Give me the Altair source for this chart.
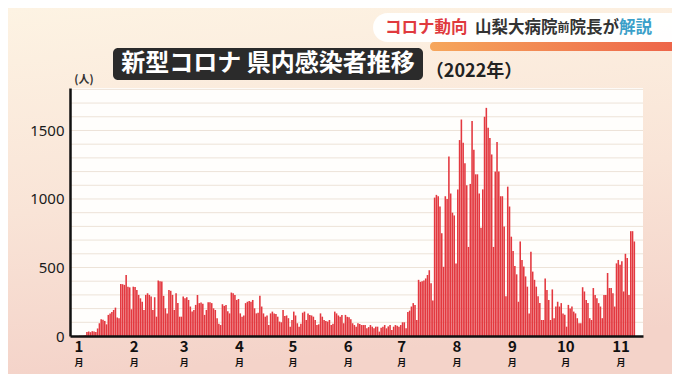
import altair as alt
import pandas as pd

# ---- daily new cases, 2022 ----
jan = [1, 2, 3, 5, 30, 33, 28, 35, 33, 30, 55, 93, 122, 118, 110, 85, 154, 165, 175, 190,
       207, 135, 130, 380, 378, 373, 446, 360, 355, 195, 360]
feb = [358, 336, 300, 275, 250, 190, 300, 312, 300, 288, 190, 283, 141, 405, 400, 397, 293,
       202, 165, 336, 330, 300, 190, 312, 240, 141, 141, 288]
mar = [275, 283, 263, 215, 178, 190, 227, 300, 240, 245, 235, 154, 190, 246, 246, 240, 202,
       190, 130, 90, 80, 232, 220, 227, 180, 165, 317, 312, 300, 263, 270]
apr = [165, 141, 150, 240, 250, 256, 250, 263, 202, 165, 170, 293, 215, 165, 141, 150, 80,
       165, 178, 165, 160, 141, 105, 100, 190, 146, 150, 130, 68, 117]
may = [178, 150, 93, 68, 90, 170, 178, 117, 165, 154, 150, 141, 117, 80, 85, 165, 141, 117,
       110, 105, 117, 80, 90, 178, 165, 150, 141, 154, 93, 154, 140]
jun = [137, 122, 93, 80, 68, 93, 88, 80, 80, 80, 56, 65, 80, 68, 56, 68, 68, 32, 60, 68,
       80, 56, 70, 80, 44, 68, 80, 75, 68, 80]
jul = [100, 100, 56, 175, 185, 215, 240, 227, 117, 410, 395, 400, 405, 420, 445, 480, 385,
       260, 1010, 1030, 1020, 945, 750, 505, 1020, 1000, 1310, 1040, 900, 880, 530]
aug = [1070, 1430, 1580, 1410, 1260, 1100, 650, 1110, 1570, 1360, 1180, 1180, 1040, 790,
       1070, 1600, 1665, 1520, 1445, 1325, 650, 1200, 1415, 1200, 1020, 1020, 800, 290,
       1090, 945, 725]
sep = [620, 510, 450, 250, 690, 555, 507, 435, 360, 165, 615, 470, 410, 360, 290, 240, 117,
       117, 420, 335, 263, 117, 340, 130, 215, 250, 215, 240, 165, 155]
oct_ = [68, 227, 200, 215, 178, 165, 130, 93, 93, 356, 325, 263, 240, 130, 117, 350, 300,
        275, 240, 215, 130, 300, 300, 460, 350, 350, 312, 215, 530, 555, 520]
nov = [545, 325, 600, 570, 300, 765, 765, 690]

month_labels = ["1", "2", "3", "4", "5", "6", "7", "8", "9", "10", "11"]
month_start_day = [0, 31, 59, 90, 120, 151, 181, 212, 243, 273, 304]
y_tick_values = [0, 500, 1000, 1500]
grid_values = [100, 200, 300, 400, 500, 600, 700, 800, 900, 1000, 1100, 1200, 1300,
               1400, 1500, 1600, 1700, 1800]

cases = jan + feb + mar + apr + may + jun + jul + aug + sep + oct_ + nov
df = pd.DataFrame({"day": list(range(len(cases))), "cases": cases})
months_df = pd.DataFrame({"start": month_start_day, "m": month_labels})
grid_df = pd.DataFrame({"g": grid_values})
one = pd.DataFrame({"k": [0]})

W, H = 573, 248
xs = alt.Scale(domain=[-5.05, 316.3], nice=False, zero=False)
ys = alt.Scale(domain=[0, 1810], nice=False)
JP = "Noto Sans CJK JP"

x_axis = alt.Axis(labels=False, ticks=False, grid=False, title=None,
                  domainColor="#111111", domainWidth=2.5, zindex=1)
y_axis = alt.Axis(values=y_tick_values, ticks=False, grid=False, title=None, format="d",
                  domainColor="#111111", domainWidth=2.5, labelFont="Noto Sans",
                  labelFontSize=15, labelColor="#1a1a1a", labelPadding=6, zindex=1)

bg = alt.Chart(one).mark_rect(
    fill=alt.Gradient(
        gradient="linear", x1=0, x2=0.15, y1=0, y2=1,
        stops=[alt.GradientStop(color="#fdf3e3", offset=0),
               alt.GradientStop(color="#f9e4d7", offset=0.55),
               alt.GradientStop(color="#f4d3c9", offset=1)])
).encode(x=alt.value(-62), x2=alt.value(602), y=alt.value(-80), y2=alt.value(286))

plot_bg = alt.Chart(one).mark_rect(fill="#fffefc").encode(
    x=alt.value(0), x2=alt.value(W), y=alt.value(0), y2=alt.value(H))

grid = alt.Chart(grid_df).mark_rule(color="#ede3d8", strokeWidth=1).encode(
    y=alt.Y("g:Q", scale=ys, axis=y_axis), x=alt.value(0), x2=alt.value(W))

bars = alt.Chart(df).transform_calculate(
    day2="datum.day + 0.88", zero="0"
).mark_rect(color="#e3383f").encode(
    x=alt.X("day:Q", scale=xs, axis=x_axis),
    x2="day2:Q",
    y=alt.Y("cases:Q", scale=ys, axis=y_axis),
    y2="zero:Q",
)

mnum = alt.Chart(months_df).mark_text(
    font=JP, fontSize=15, fontWeight="bold", color="#111111", baseline="middle"
).encode(x=alt.X("start:Q", scale=xs, axis=x_axis), y=alt.value(259), text="m:N")

mtsuki = alt.Chart(months_df).mark_text(
    font=JP, fontSize=9, fontWeight="bold", color="#111111", baseline="middle", text="月"
).encode(x=alt.X("start:Q", scale=xs, axis=x_axis), y=alt.value(275))

unit = alt.Chart(one).mark_text(
    font=JP, fontSize=11, fontWeight="bold", color="#333333", text="(人)"
).encode(x=alt.value(14), y=alt.value(-8))

title_box = alt.Chart(one).mark_rect(fill="#2b2b2b", cornerRadius=5).encode(
    x=alt.value(43), x2=alt.value(353), y=alt.value(-40), y2=alt.value(-8))
title_txt = alt.Chart(one).mark_text(
    font=JP, fontSize=24, fontWeight="bold", color="#ffffff", baseline="middle",
    text="新型コロナ 県内感染者推移"
).encode(x=alt.value(198), y=alt.value(-24))
year_txt = alt.Chart(one).mark_text(
    font=JP, fontSize=18, fontWeight="bold", color="#222222", baseline="middle",
    text="（2022年）"
).encode(x=alt.value(404), y=alt.value(-16))

pill = alt.Chart(one).mark_rect(fill="#ffffff", cornerRadius=15, opacity=0.95).encode(
    x=alt.value(303), x2=alt.value(640), y=alt.value(-75), y2=alt.value(-46))
stripe = alt.Chart(one).mark_rect(
    cornerRadius=4,
    fill=alt.Gradient(gradient="linear", x1=0, x2=1, y1=0, y2=0,
                      stops=[alt.GradientStop(color="#f6a75c", offset=0),
                             alt.GradientStop(color="#ec5b47", offset=1)])
).encode(x=alt.value(360), x2=alt.value(640), y=alt.value(-46), y2=alt.value(-37))


def label(txt, x, color, size=16.5):
    return alt.Chart(one).mark_text(
        font=JP, fontSize=size, fontWeight="bold", color=color, align="left",
        baseline="middle", text=txt
    ).encode(x=alt.value(x), y=alt.value(-60))


t1 = label("コロナ動向", 315, "#e03a3e")
t2 = label("山梨大病院", 405, "#333333")
t3 = label("前", 487.5, "#333333", 12)
t4 = label("院長が", 499.5, "#333333")
t5 = label("解説", 549, "#3a9fc9")

chart = alt.layer(
    bg, plot_bg, grid, bars, mnum, mtsuki, unit, title_box, title_txt, year_txt,
    pill, stripe, t1, t2, t3, t4, t5
).properties(
    width=W, height=H,
    padding={"left": 62, "top": 80, "right": 29, "bottom": 38},
    autosize=alt.AutoSizeParams(type="none"),
    background="#f7e2d6",
).configure_view(strokeWidth=0)

chart.save("out.html", embed_options={"renderer": "svg", "actions": False})
